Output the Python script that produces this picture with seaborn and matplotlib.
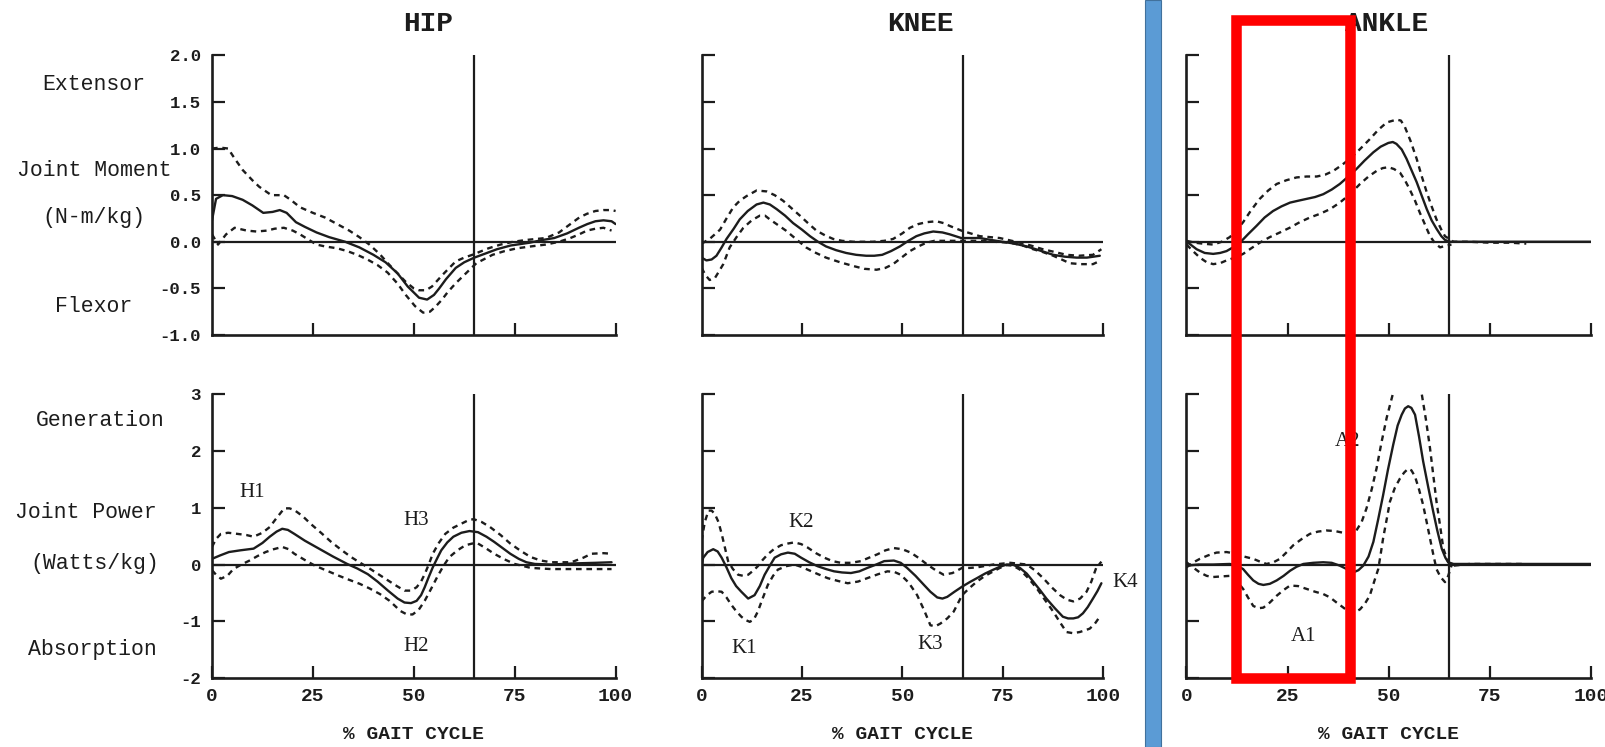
import matplotlib
matplotlib.use("Agg")
import matplotlib.pyplot as plt
import seaborn as sns
import pandas as pd
from matplotlib.patches import Rectangle

sns.set_theme(style="ticks")
plt.rcParams['font.family'] = ['Liberation Mono', 'DejaVu Sans']

# ---------------- data: % gait cycle vs. value (mean, +1 SD, -1 SD) ----------------
# HIP joint moment (N-m/kg)
hip_m_mean_x = [0, 1, 2.7, 5, 7.6, 10, 12.7, 15, 16.8, 18.5, 20.8, 23, 25.9, 29, 33, 36.5, 40, 43, 46, 48.5,
                51.3, 53.3, 55, 56.3, 58, 60.4, 62.5, 65, 67.5, 70.6, 74, 78.7, 82, 84.8, 88, 90.9, 93, 95, 97, 99, 100]
hip_m_mean = [0.23, 0.46, 0.5, 0.49, 0.45, 0.39, 0.31, 0.32, 0.34, 0.31, 0.21, 0.16, 0.1, 0.05, 0.0, -0.06, -0.14,
              -0.22, -0.34, -0.48, -0.6, -0.62, -0.57, -0.5, -0.4, -0.28, -0.22, -0.17, -0.13, -0.08, -0.04, -0.01,
              0.02, 0.04, 0.09, 0.15, 0.19, 0.22, 0.23, 0.22, 0.19]
hip_m_up_x = [0, 2, 4, 5.5, 7.6, 10, 11.7, 14.7, 16.5, 17.8, 19.5, 21.8, 25, 28, 31, 34, 36.5, 39, 41.5, 44, 46, 48,
              50, 51.3, 53, 54.5, 57, 60.4, 62.5, 64.5, 68.5, 71.5, 74.6, 78, 82.7, 86, 88.8, 91, 92.9, 95, 97, 99, 100]
hip_m_up = [1.0, 1.01, 1.0, 0.9, 0.77, 0.66, 0.59, 0.5, 0.5, 0.5, 0.45, 0.37, 0.31, 0.26, 0.19, 0.12, 0.05, -0.03,
            -0.13, -0.25, -0.34, -0.43, -0.5, -0.52, -0.52, -0.48, -0.36, -0.21, -0.17, -0.14, -0.07, -0.03, 0.0,
            0.02, 0.04, 0.1, 0.19, 0.26, 0.3, 0.33, 0.34, 0.34, 0.33]
hip_m_lo_x = [0, 1.5, 3.5, 5.6, 8.6, 11, 13.7, 15.5, 17.8, 20, 21.8, 24, 25.9, 28, 31, 33.5, 36, 38.5, 41, 43.5, 46,
              48, 50.3, 52.3, 54, 55.3, 57, 58.4, 60.5, 62.4, 65.5, 69.5, 72.5, 75.6, 79, 82.7, 86, 88.8, 91, 92.9,
              95, 97, 99]
hip_m_lo = [0.08, -0.03, 0.08, 0.15, 0.12, 0.11, 0.12, 0.14, 0.15, 0.12, 0.08, 0.02, -0.03, -0.05, -0.07, -0.1,
            -0.14, -0.19, -0.25, -0.33, -0.45, -0.57, -0.69, -0.76, -0.75, -0.7, -0.62, -0.54, -0.44, -0.36, -0.23,
            -0.14, -0.1, -0.07, -0.05, -0.03, 0.0, 0.04, 0.08, 0.12, 0.14, 0.15, 0.12]

# HIP joint power (W/kg)
hip_p_mean_x = [0, 2, 4.2, 7, 10.3, 12.5, 14.3, 16, 17.4, 18.8, 20.4, 23, 26.5, 30, 33.5, 36, 38.6, 41, 43.6, 46,
                47.7, 49.3, 50.7, 51.8, 52.7, 53.7, 54.7, 55.8, 56.8, 58.3, 59.8, 61.8, 63.8, 65.9, 68, 69.9, 72,
                73.9, 76, 77.9, 80, 84, 90, 95, 99]
hip_p_mean = [0.1, 0.16, 0.22, 0.25, 0.28, 0.38, 0.49, 0.58, 0.63, 0.61, 0.54, 0.42, 0.28, 0.14, 0.01, -0.07,
              -0.17, -0.3, -0.46, -0.6, -0.67, -0.68, -0.64, -0.54, -0.4, -0.22, -0.05, 0.11, 0.25, 0.39, 0.49,
              0.56, 0.59, 0.57, 0.49, 0.4, 0.29, 0.19, 0.1, 0.04, 0.01, 0.0, 0.02, 0.03, 0.04]
hip_p_up_x = [0, 1, 2.2, 4, 6.3, 8.5, 10.3, 12.5, 14.3, 16, 17.9, 19.2, 20.4, 22.5, 24.4, 27, 29.5, 32, 34.5, 36.5,
              38.6, 41, 43.6, 45.8, 47.7, 49.3, 50.7, 51.8, 52.7, 53.7, 54.7, 56.2, 57.8, 59.8, 61.8, 63.5, 64.8,
              66.8, 68.9, 71.5, 73.9, 76.5, 79, 81.5, 84, 89, 92, 94, 97, 99]
hip_p_up = [0.31, 0.45, 0.54, 0.56, 0.54, 0.52, 0.49, 0.56, 0.66, 0.82, 0.99, 0.99, 0.96, 0.85, 0.72, 0.56, 0.4,
            0.26, 0.13, 0.04, -0.05, -0.16, -0.28, -0.38, -0.46, -0.46, -0.4, -0.3, -0.17, 0.0, 0.19, 0.38, 0.54,
            0.65, 0.72, 0.78, 0.8, 0.75, 0.66, 0.52, 0.37, 0.24, 0.13, 0.07, 0.04, 0.04, 0.12, 0.19, 0.2, 0.19]
hip_p_lo_x = [0, 1, 2.2, 3.8, 5.3, 7.3, 9.3, 11.3, 13.3, 15.3, 17.4, 19, 20.4, 23, 25.5, 28.5, 31.5, 34, 36.6, 39,
              41.6, 44, 46.7, 48.3, 49.7, 51.2, 52.7, 54.2, 55.8, 57.3, 58.8, 60.8, 62.8, 64.5, 65.9, 68, 69.9,
              72.5, 75, 79, 84, 89, 94, 99]
hip_p_lo = [-0.1, -0.18, -0.25, -0.2, -0.08, 0.0, 0.07, 0.15, 0.22, 0.27, 0.31, 0.27, 0.19, 0.08, -0.02, -0.11,
            -0.2, -0.27, -0.34, -0.42, -0.52, -0.64, -0.82, -0.88, -0.88, -0.8, -0.64, -0.44, -0.22, -0.03, 0.13,
            0.25, 0.34, 0.37, 0.37, 0.28, 0.19, 0.09, 0.01, -0.06, -0.08, -0.08, -0.08, -0.08]

# KNEE joint moment
knee_m_mean_x = [0, 1.2, 2.5, 3.7, 5, 6.2, 8, 9.5, 11.5, 13.7, 15.4, 17, 18.7, 20.8, 22.8, 25, 27, 29, 31, 33.5,
                 36, 38.5, 41, 43, 45, 47.2, 49.4, 51.5, 53.5, 55.5, 57.7, 60, 61.8, 64.7, 67, 69.3, 72, 75, 78,
                 81, 84, 87.6, 90.5, 93.4, 96, 99.2]
knee_m_mean = [-0.17, -0.2, -0.19, -0.15, -0.06, 0.03, 0.14, 0.24, 0.33, 0.4, 0.42, 0.4, 0.35, 0.28, 0.2, 0.13,
               0.06, 0.0, -0.05, -0.09, -0.12, -0.14, -0.15, -0.15, -0.14, -0.1, -0.05, 0.01, 0.06, 0.09, 0.11,
               0.1, 0.08, 0.04, 0.04, 0.04, 0.02, 0.0, -0.02, -0.05, -0.09, -0.14, -0.16, -0.17, -0.17, -0.15]
knee_m_up_x = [0, 2, 3.3, 4.6, 6.2, 7.9, 9.5, 11.2, 13.7, 16.2, 18.2, 20.3, 22.4, 24.5, 26.5, 28.6, 30.7, 32.8,
               35, 37.8, 42.7, 45.5, 47.7, 50, 51.9, 54, 56, 58.5, 60.3, 61.8, 64.7, 67, 69.3, 74.3, 79.3, 82,
               85, 88, 90.9, 94, 97.5, 99.6]
knee_m_up = [-0.02, 0.03, 0.08, 0.13, 0.25, 0.37, 0.44, 0.49, 0.55, 0.54, 0.5, 0.44, 0.36, 0.28, 0.2, 0.12, 0.07,
             0.03, 0.01, 0.0, 0.0, 0.01, 0.03, 0.09, 0.15, 0.19, 0.21, 0.22, 0.2, 0.17, 0.12, 0.09, 0.06, 0.04,
             -0.01, -0.04, -0.08, -0.11, -0.14, -0.15, -0.14, -0.08]
knee_m_lo_x = [0, 1, 2, 3.3, 4.3, 5.4, 6.2, 7, 8.7, 10.4, 12.5, 14.5, 15.8, 17, 19, 21, 23.5, 26, 28.5, 31, 34.5,
               37.8, 40.5, 43.6, 45.8, 47.7, 49.8, 51.9, 54, 56, 58, 60, 64.7, 69.3, 73, 76.8, 80, 82.6, 85, 87.6,
               89.7, 91.7, 94.5, 97.5, 99.5]
knee_m_lo = [-0.28, -0.36, -0.41, -0.39, -0.32, -0.24, -0.15, -0.06, 0.05, 0.15, 0.23, 0.28, 0.28, 0.24, 0.18,
             0.12, 0.03, -0.06, -0.12, -0.17, -0.22, -0.26, -0.29, -0.3, -0.28, -0.24, -0.17, -0.1, -0.05, -0.01,
             0.01, 0.01, 0.01, 0.01, 0.0, -0.01, -0.04, -0.08, -0.11, -0.15, -0.19, -0.23, -0.24, -0.24, -0.2]

# KNEE joint power
knee_p_mean_x = [0, 0.4, 1.5, 2.9, 4, 5, 6.2, 7.4, 8.6, 9.9, 11.6, 13.2, 14.5, 15.7, 17, 18.2, 19.8, 21.5, 23.2,
                 24.8, 26.8, 28.9, 31, 33, 35, 37.2, 39.3, 41.3, 43.5, 45.5, 47.9, 49.6, 51.2, 53.3, 55.4, 57, 58.7,
                 60, 61.2, 63, 64.9, 66.8, 68.6, 70.6, 72.7, 74.3, 76, 77.5, 79.3, 81, 82.6, 84.3, 85.9, 88, 90,
                 91.3, 92.6, 93.8, 95, 96.2, 97.5, 98.6, 99.6]
knee_p_mean = [0.0, 0.12, 0.22, 0.27, 0.23, 0.12, -0.05, -0.24, -0.38, -0.48, -0.6, -0.54, -0.38, -0.18, -0.02,
               0.12, 0.18, 0.21, 0.19, 0.12, 0.04, -0.03, -0.08, -0.12, -0.14, -0.15, -0.12, -0.06, 0.0, 0.06, 0.07,
               0.03, -0.06, -0.2, -0.36, -0.48, -0.58, -0.6, -0.57, -0.48, -0.39, -0.31, -0.24, -0.16, -0.09,
               -0.04, 0.0, 0.0, -0.06, -0.16, -0.3, -0.45, -0.6, -0.77, -0.92, -0.95, -0.95, -0.93, -0.86, -0.75,
               -0.6, -0.47, -0.33]
knee_p_up_x = [0, 0.8, 1.7, 2.5, 3.3, 4.2, 5, 5.8, 6.6, 7.8, 9.1, 10.4, 11.6, 13, 14, 15.2, 16.5, 18, 19.8, 21.5,
               23.1, 24.8, 26.4, 28.5, 30.6, 32.6, 34.7, 37.2, 39.7, 41.7, 43.8, 45.8, 47.9, 50, 52.1, 54.2, 56.2,
               58.3, 60.3, 62.5, 64.9, 66.8, 68.6, 72.7, 76.9, 81, 83, 85.1, 87.2, 89.3, 91, 92.6, 94.3, 95.9,
               97.1, 98.3, 99.6]
knee_p_up = [0.42, 0.75, 0.95, 0.95, 0.89, 0.75, 0.54, 0.3, 0.06, -0.08, -0.18, -0.2, -0.18, -0.1, -0.03, 0.08,
             0.18, 0.27, 0.34, 0.37, 0.39, 0.36, 0.3, 0.2, 0.12, 0.06, 0.03, 0.03, 0.06, 0.12, 0.18, 0.25, 0.29,
             0.27, 0.21, 0.11, 0.0, -0.1, -0.18, -0.15, -0.06, -0.06, -0.05, 0.0, 0.03, 0.0, -0.1, -0.24, -0.4,
             -0.54, -0.62, -0.65, -0.6, -0.48, -0.3, -0.06, 0.05]
knee_p_lo_x = [0, 1.2, 2.5, 3.7, 5, 6.2, 7.4, 8.6, 9.9, 11, 12, 13, 14, 15.2, 16.5, 17.8, 19, 21, 23.1, 24.8, 26.4,
               29, 31.4, 34, 36.4, 39, 41.3, 44, 46.3, 48, 49.6, 51.6, 53.7, 55.4, 57, 58.2, 59.5, 61.2, 62.8,
               64.9, 66.8, 68.6, 70.6, 72.7, 74.3, 76, 77.6, 79.3, 81.4, 83.5, 85.5, 87.6, 89.3, 90.9, 92.5, 94.2,
               95.5, 96.7, 98, 99.2]
knee_p_lo = [-0.65, -0.55, -0.48, -0.47, -0.48, -0.58, -0.71, -0.82, -0.92, -0.98, -1.01, -0.97, -0.83, -0.6,
             -0.36, -0.2, -0.09, -0.03, 0.0, -0.04, -0.09, -0.17, -0.24, -0.29, -0.33, -0.3, -0.24, -0.17, -0.12,
             -0.13, -0.18, -0.32, -0.54, -0.8, -1.07, -1.09, -1.04, -0.95, -0.83, -0.54, -0.41, -0.3, -0.2, -0.12,
             -0.06, -0.01, -0.02, -0.09, -0.24, -0.42, -0.62, -0.83, -1.02, -1.19, -1.21, -1.19, -1.16, -1.13,
             -1.04, -0.92]

# ANKLE joint moment
ankle_m_mean_x = [0, 1, 2.5, 4.5, 6.6, 8.3, 9.9, 11.5, 13.2, 15.2, 17.3, 19.3, 21.4, 23.5, 25.6, 27.6, 29.7, 31.8,
                  33.8, 35.9, 37.9, 40, 42, 44, 46.2, 48, 49.9, 51, 51.9, 53.2, 54.4, 55.6, 56.9, 58.1, 59.4, 60.6,
                  61.8, 63, 63.9, 65, 66, 100]
ankle_m_mean = [0.0, -0.03, -0.08, -0.12, -0.13, -0.12, -0.1, -0.06, -0.01, 0.08, 0.17, 0.26, 0.33, 0.38, 0.42,
                0.44, 0.46, 0.48, 0.51, 0.56, 0.62, 0.7, 0.78, 0.87, 0.96, 1.02, 1.06, 1.07, 1.05, 0.99, 0.89, 0.77,
                0.64, 0.5, 0.35, 0.23, 0.14, 0.06, 0.02, 0.0, 0.0, 0.0]
ankle_m_up_x = [0, 2, 4, 6.6, 8.7, 10.7, 12.3, 14, 16, 18.1, 20.2, 22.3, 24.7, 27.2, 29.7, 32.2, 34.3, 36.3, 38.3,
                40.4, 42.8, 45.3, 47.4, 49.5, 51.9, 53, 54, 55.4, 56.9, 58.1, 59.4, 60.6, 61.8, 63, 63.9, 66, 70,
                75, 80, 84]
ankle_m_up = [0.01, -0.01, -0.02, -0.03, 0.0, 0.05, 0.12, 0.21, 0.34, 0.46, 0.55, 0.62, 0.66, 0.69, 0.7, 0.7,
              0.72, 0.76, 0.82, 0.89, 0.99, 1.1, 1.2, 1.28, 1.31, 1.3, 1.23, 1.08, 0.89, 0.71, 0.53, 0.38, 0.24,
              0.13, 0.06, 0.0, 0.0, -0.01, -0.01, -0.02]
ankle_m_lo_x = [0, 1.6, 3.3, 5, 6.6, 8.3, 9.9, 12, 14, 16, 18.1, 20.6, 23.1, 25.5, 28, 30.5, 33, 35.5, 37.9, 40.4,
                42.9, 45, 47, 48.5, 49.9, 51.3, 52.8, 54, 55.2, 56.5, 57.7, 59, 60.2, 61.5, 62.7, 64.3, 65.5]
ankle_m_lo = [-0.03, -0.1, -0.17, -0.22, -0.24, -0.23, -0.2, -0.17, -0.13, -0.07, -0.01, 0.05, 0.1, 0.15, 0.21,
              0.26, 0.3, 0.35, 0.42, 0.51, 0.62, 0.7, 0.76, 0.79, 0.8, 0.78, 0.74, 0.66, 0.56, 0.44, 0.31, 0.18,
              0.06, -0.02, -0.06, -0.04, -0.03]

# ANKLE joint power
ankle_p_mean_x = [0, 3, 6.6, 10.7, 12.5, 14, 15.2, 16.5, 17.8, 19, 20.6, 22.3, 24, 25.6, 27.2, 28.9, 31.3, 33.8,
                  35.9, 37.9, 39.6, 41.2, 42.5, 43.7, 45, 46.2, 47.4, 48.6, 49.8, 51.1, 52.2, 53.2, 54, 54.8, 55.6,
                  56.5, 57.5, 58.5, 59.8, 61, 62, 63.1, 64, 64.7, 66, 68.4, 100]
ankle_p_mean = [-0.02, 0.0, 0.0, 0.01, -0.02, -0.08, -0.18, -0.28, -0.34, -0.36, -0.34, -0.28, -0.2, -0.11, -0.04,
                0.01, 0.03, 0.04, 0.03, -0.02, -0.08, -0.14, -0.1, -0.02, 0.14, 0.4, 0.8, 1.22, 1.67, 2.11, 2.45,
                2.64, 2.75, 2.79, 2.76, 2.64, 2.25, 1.82, 1.35, 0.93, 0.6, 0.28, 0.12, 0.04, 0.01, 0.01, 0.01]
ankle_p_up_x = [0, 1.5, 3.3, 5.3, 7.4, 9.9, 11.5, 13.2, 14.8, 16.5, 18.2, 19.8, 21.5, 23.1, 24.8, 26.4, 28.5, 30.5,
                32.5, 34.6, 36.7, 38.7, 40.4, 42, 43.3, 44.5, 45.8, 47, 48.2, 49.5, 51.1, 53, 54.5, 56.5, 58.1,
                59.2, 60.2, 61, 61.8, 62.7, 63.5, 64.7, 66, 70, 75, 80, 84]
ankle_p_up = [-0.05, 0.03, 0.1, 0.16, 0.21, 0.22, 0.2, 0.16, 0.13, 0.1, 0.05, 0.01, 0.04, 0.1, 0.22, 0.34, 0.45,
              0.54, 0.58, 0.6, 0.59, 0.56, 0.55, 0.6, 0.75, 0.99, 1.33, 1.7, 2.15, 2.59, 3.03, 3.4, 3.5, 3.4, 3.03,
              2.55, 2.05, 1.58, 1.11, 0.68, 0.28, 0.04, -0.02, 0.01, 0.01, 0.01, 0.01]
ankle_p_lo_x = [0, 1.6, 3.3, 5, 6.6, 8.6, 10.7, 12.3, 14, 15.2, 16.5, 17.8, 19, 20.6, 22.3, 24, 25.6, 27.6, 29.7,
                31.8, 33.8, 35.5, 37.1, 38.8, 40.4, 41.7, 42.9, 44.1, 45.3, 46.4, 47.4, 48, 48.6, 49.5, 50.3, 51.5,
                52.8, 53.8, 54.8, 55.6, 56.5, 57.5, 58.5, 59.4, 60.2, 61, 61.8, 62.8, 63.9, 64.7, 65.5]
ankle_p_lo = [0.04, -0.05, -0.14, -0.2, -0.22, -0.21, -0.2, -0.28, -0.43, -0.58, -0.73, -0.77, -0.76, -0.67, -0.55,
              -0.45, -0.37, -0.38, -0.43, -0.48, -0.52, -0.58, -0.67, -0.76, -0.85, -0.84, -0.79, -0.69, -0.55,
              -0.3, -0.08, 0.18, 0.46, 0.8, 1.11, 1.35, 1.52, 1.62, 1.69, 1.66, 1.55, 1.32, 1.05, 0.74, 0.46, 0.18,
              -0.08, -0.22, -0.31, -0.2, -0.02]

# axis scales and labels
toe_off = 65
pct_ticks = [0, 25, 50, 75, 100]
moment_ticks = [-1.0, -0.5, 0.0, 0.5, 1.0, 1.5, 2.0]
moment_labels = ["-1.0", "-0.5", "0.0", "0.5", "1.0", "1.5", "2.0"]
power_ticks = [-2, -1, 0, 1, 2, 3]
power_labels = ["-2", "-1", "0", "1", "2", "3"]
joints = ["HIP", "KNEE", "ANKLE"]
moment_side = ["Extensor", "Joint Moment", "(N-m/kg)", "Flexor"]
power_side = ["Generation", "Joint Power", "(Watts/kg)", "Absorption"]
phase_labels = {
    "HIP": [("H1", 10, 1.27), ("H3", 50.5, 0.78), ("H2", 50.5, -1.44)],
    "KNEE": [("K2", 24.7, 0.74), ("K1", 10.7, -1.48), ("K3", 56.9, -1.41), ("K4", 105.5, -0.32)],
    "ANKLE": [("A2", 39.7, 2.17), ("A1", 28.9, -1.26)],
}

curves = {
    ("HIP", "moment"): [(hip_m_mean_x, hip_m_mean, "mean"), (hip_m_up_x, hip_m_up, "sd"), (hip_m_lo_x, hip_m_lo, "sd")],
    ("HIP", "power"): [(hip_p_mean_x, hip_p_mean, "mean"), (hip_p_up_x, hip_p_up, "sd"), (hip_p_lo_x, hip_p_lo, "sd")],
    ("KNEE", "moment"): [(knee_m_mean_x, knee_m_mean, "mean"), (knee_m_up_x, knee_m_up, "sd"), (knee_m_lo_x, knee_m_lo, "sd")],
    ("KNEE", "power"): [(knee_p_mean_x, knee_p_mean, "mean"), (knee_p_up_x, knee_p_up, "sd"), (knee_p_lo_x, knee_p_lo, "sd")],
    ("ANKLE", "moment"): [(ankle_m_mean_x, ankle_m_mean, "mean"), (ankle_m_up_x, ankle_m_up, "sd"), (ankle_m_lo_x, ankle_m_lo, "sd")],
    ("ANKLE", "power"): [(ankle_p_mean_x, ankle_p_mean, "mean"), (ankle_p_up_x, ankle_p_up, "sd"), (ankle_p_lo_x, ankle_p_lo, "sd")],
}

# ---------------- figure ----------------
W, H = 1606, 747
fig = plt.figure(figsize=(W / 100, H / 100), dpi=100, facecolor="white")
INK = "#1c1c1c"
MONO = ['Liberation Mono', 'DejaVu Sans Mono']
SERIF = ['Liberation Serif', 'DejaVu Serif']

col_left = {"HIP": 212, "KNEE": 701.6, "ANKLE": 1186.5}
col_width = {"HIP": 403.6, "KNEE": 401.4, "ANKLE": 404.5}
row_box = {"moment": (55.3, 335.0), "power": (394.3, 678.0)}


def px_axes(left, width, top, bottom):
    return [left / W, 1 - bottom / H, width / W, (bottom - top) / H]


for joint in joints:
    for quantity in ["moment", "power"]:
        top, bottom = row_box[quantity]
        ax = fig.add_axes(px_axes(col_left[joint], col_width[joint], top, bottom))
        ax.set_facecolor("white")
        rows = []
        for i, (xs, ys, kind) in enumerate(curves[(joint, quantity)]):
            rows.append(pd.DataFrame({"pct": xs, "value": ys, "curve": i, "kind": kind}))
        df = pd.concat(rows, ignore_index=True)
        for i, sub in df.groupby("curve"):
            kind = sub["kind"].iloc[0]
            if kind == "mean":
                sns.lineplot(data=sub, x="pct", y="value", ax=ax, color=INK, lw=1.7,
                             sort=False, estimator=None, zorder=3)
            else:
                sns.lineplot(data=sub, x="pct", y="value", ax=ax, color=INK, lw=1.7,
                             linestyle=(0, (2.4, 2.0)), sort=False, estimator=None, zorder=3)

        ax.axhline(0, color=INK, lw=1.6, zorder=2)
        ax.axvline(toe_off, color=INK, lw=1.6, zorder=2)
        ax.set_xlim(0, 100)
        if quantity == "moment":
            ax.set_ylim(-1.0, 2.0)
            ax.set_yticks(moment_ticks)
            ax.set_yticklabels(moment_labels if joint == "HIP" else [""] * len(moment_ticks))
            ax.set_xticks(pct_ticks[1:])
            ax.set_xticklabels([])
            ax.set_xlabel("")
        else:
            ax.set_ylim(-2, 3)
            ax.set_yticks(power_ticks)
            ax.set_yticklabels(power_labels if joint == "HIP" else [""] * len(power_ticks))
            ax.set_xticks(pct_ticks)
            ax.set_xticklabels([str(t) for t in pct_ticks], family=MONO, fontsize=14, weight="bold")
            ax.set_xlabel("% GAIT CYCLE", family=MONO, fontsize=14, weight="bold", labelpad=15, color=INK)
            for name, lx, ly in phase_labels[joint]:
                ax.text(lx, ly, name, family=SERIF, fontsize=15, ha="center", va="center",
                        color=INK, clip_on=False)
        ax.set_ylabel("")
        for lab in ax.get_yticklabels():
            lab.set_family(MONO)
            lab.set_fontsize(12.5)
            lab.set_weight("bold")
        sns.despine(ax=ax)
        for s in ["left", "bottom"]:
            ax.spines[s].set_linewidth(1.9)
            ax.spines[s].set_color(INK)
        ax.tick_params(axis="both", direction="in", length=9, width=1.6, colors=INK, pad=8)
        ax.tick_params(axis="x", pad=7)

# column titles
title_x = {"HIP": 428, "KNEE": 920, "ANKLE": 1387}
for joint in joints:
    fig.text(title_x[joint] / W, 1 - 24 / H, joint, family=MONO, fontsize=20, weight="bold",
             ha="center", va="center", color=INK)

# side captions
moment_pos = [(94, 84), (94, 171), (94, 218), (94, 307)]
power_pos = [(100, 421), (86, 512), (95, 563), (92, 650)]
for text, (x, y) in zip(moment_side + power_side, moment_pos + power_pos):
    fig.text(x / W, 1 - y / H, text, family=MONO, fontsize=15.5, ha="center", va="center", color=INK)

# blue divider between knee and ankle columns
fig.add_artist(Rectangle((1145 / W, 0), 16 / W, 1, transform=fig.transFigure,
                         facecolor="#5B9BD5", edgecolor="#41719C", lw=0.8, zorder=8))
# red highlight box over early/mid stance of the ankle
fig.add_artist(Rectangle((1236 / W, 1 - 678 / H), (1350 - 1236) / W, (678 - 20) / H,
                         transform=fig.transFigure, fill=False, edgecolor="#FF0000", lw=7.6, zorder=9))

fig.savefig("out.png", dpi=100, facecolor="white")
